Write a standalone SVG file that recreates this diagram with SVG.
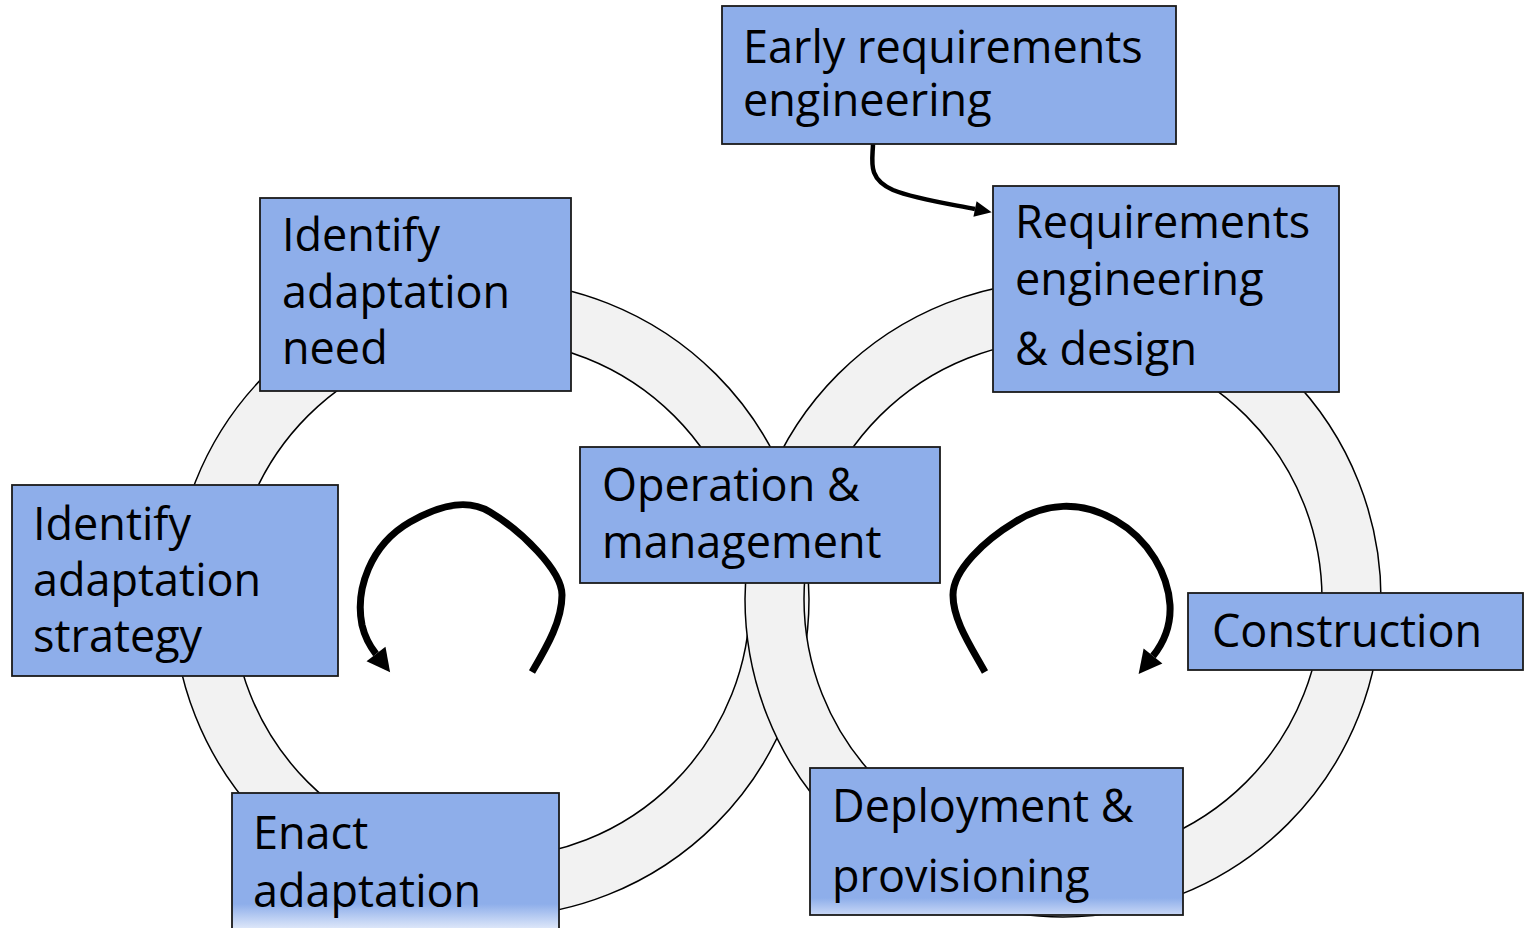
<svg xmlns="http://www.w3.org/2000/svg" width="1524" height="928" viewBox="0 0 1524 928">
<defs>
<style>
.ring{fill:#f2f2f2;stroke:#000;stroke-width:1.5;fill-rule:evenodd}
.box{fill:#8eaeea;stroke:#1a1a1a;stroke-width:1.8}
.lbl{font-family:"Open Sans","Noto Sans","Liberation Sans",sans-serif;font-size:45px;fill:#000}
.thin{fill:none;stroke:#000;stroke-width:4.5}
.loop{fill:none;stroke:#000;stroke-width:7}
</style>
<marker id="headSmall" markerUnits="userSpaceOnUse" viewBox="-1 -10 20 20" refX="0" refY="0" markerWidth="20" markerHeight="20" orient="auto">
<path d="M0,-8 L17,0 L0,8 z" fill="#000"/>
</marker>
<marker id="headBig" markerUnits="userSpaceOnUse" viewBox="-1 -14 26 28" refX="0" refY="0" markerWidth="26" markerHeight="28" orient="auto">
<path d="M0,-12 L23,0 L0,12 z" fill="#000"/>
</marker>
<linearGradient id="fadeEnact" gradientUnits="userSpaceOnUse" x1="0" y1="904" x2="0" y2="928">
<stop offset="0" stop-color="#8eaeea"/>
<stop offset="1" stop-color="#dce6f9"/>
</linearGradient>
<linearGradient id="fadeDeploy" gradientUnits="userSpaceOnUse" x1="0" y1="898" x2="0" y2="915">
<stop offset="0" stop-color="#8eaeea"/>
<stop offset="1" stop-color="#c9d8f6"/>
</linearGradient>
</defs>
<rect width="1524" height="928" fill="#fff"/>
<g id="rings">
<path class="ring" d="M173,599 a318,318 0 1,0 636,0 a318,318 0 1,0 -636,0 z M232,599 a259,259 0 1,0 518,0 a259,259 0 1,0 -518,0 z"/>
<path class="ring" d="M745,599 a318,318 0 1,0 636,0 a318,318 0 1,0 -636,0 z M804,599 a259,259 0 1,0 518,0 a259,259 0 1,0 -518,0 z"/>
</g>
<g id="connectors">
<path class="thin" d="M873,143 C873,160 866,178 893,190 C915,199 950,204 975,209" marker-end="url(#headSmall)"/>
<path class="loop" d="M532,672 C548,645 562,620 562,595 C562,570 520,530 490,512 C470,500 445,502 410,522 C370,545 355,590 362,625 C365,638 369,645 376,654" marker-end="url(#headBig)"/>
<path class="loop" d="M985,672 C970,645 953,620 953,595 C953,570 985,540 1015,522 C1045,503 1080,500 1115,520 C1150,540 1168,575 1170,605 C1171,625 1165,641 1153,656" marker-end="url(#headBig)"/>
</g>
<g id="early">
<rect class="box" x="722" y="6" width="454" height="138"/>
<text class="lbl" x="743" y="63">Early requirements</text>
<text class="lbl" x="743" y="116">engineering</text>
</g>
<g id="identify-need">
<rect class="box" x="260" y="198" width="311" height="193"/>
<text class="lbl" x="282" y="251">Identify</text>
<text class="lbl" x="282" y="308">adaptation</text>
<text class="lbl" x="282" y="364">need</text>
</g>
<g id="requirements">
<rect class="box" x="993" y="186" width="346" height="206"/>
<text class="lbl" x="1015" y="238">Requirements</text>
<text class="lbl" x="1015" y="295">engineering</text>
<text class="lbl" x="1015" y="365">&amp; design</text>
</g>
<g id="identify-strategy">
<rect class="box" x="12" y="485" width="326" height="191"/>
<text class="lbl" x="33" y="540">Identify</text>
<text class="lbl" x="33" y="596">adaptation</text>
<text class="lbl" x="33" y="652">strategy</text>
</g>
<g id="operation">
<rect class="box" x="580" y="447" width="360" height="136"/>
<text class="lbl" x="602" y="501">Operation &amp;</text>
<text class="lbl" x="602" y="558">management</text>
</g>
<g id="construction">
<rect class="box" x="1188" y="593" width="335" height="77"/>
<text class="lbl" x="1212" y="647">Construction</text>
</g>
<g id="deployment">
<rect class="box" x="810" y="768" width="373" height="147" style="fill:url(#fadeDeploy)"/>
<text class="lbl" x="832" y="822">Deployment &amp;</text>
<text class="lbl" x="832" y="892">provisioning</text>
</g>
<g id="enact">
<rect class="box" x="232" y="793" width="327" height="145" style="fill:url(#fadeEnact)"/>
<text class="lbl" x="253" y="849">Enact</text>
<text class="lbl" x="253" y="907">adaptation</text>
</g>
</svg>
